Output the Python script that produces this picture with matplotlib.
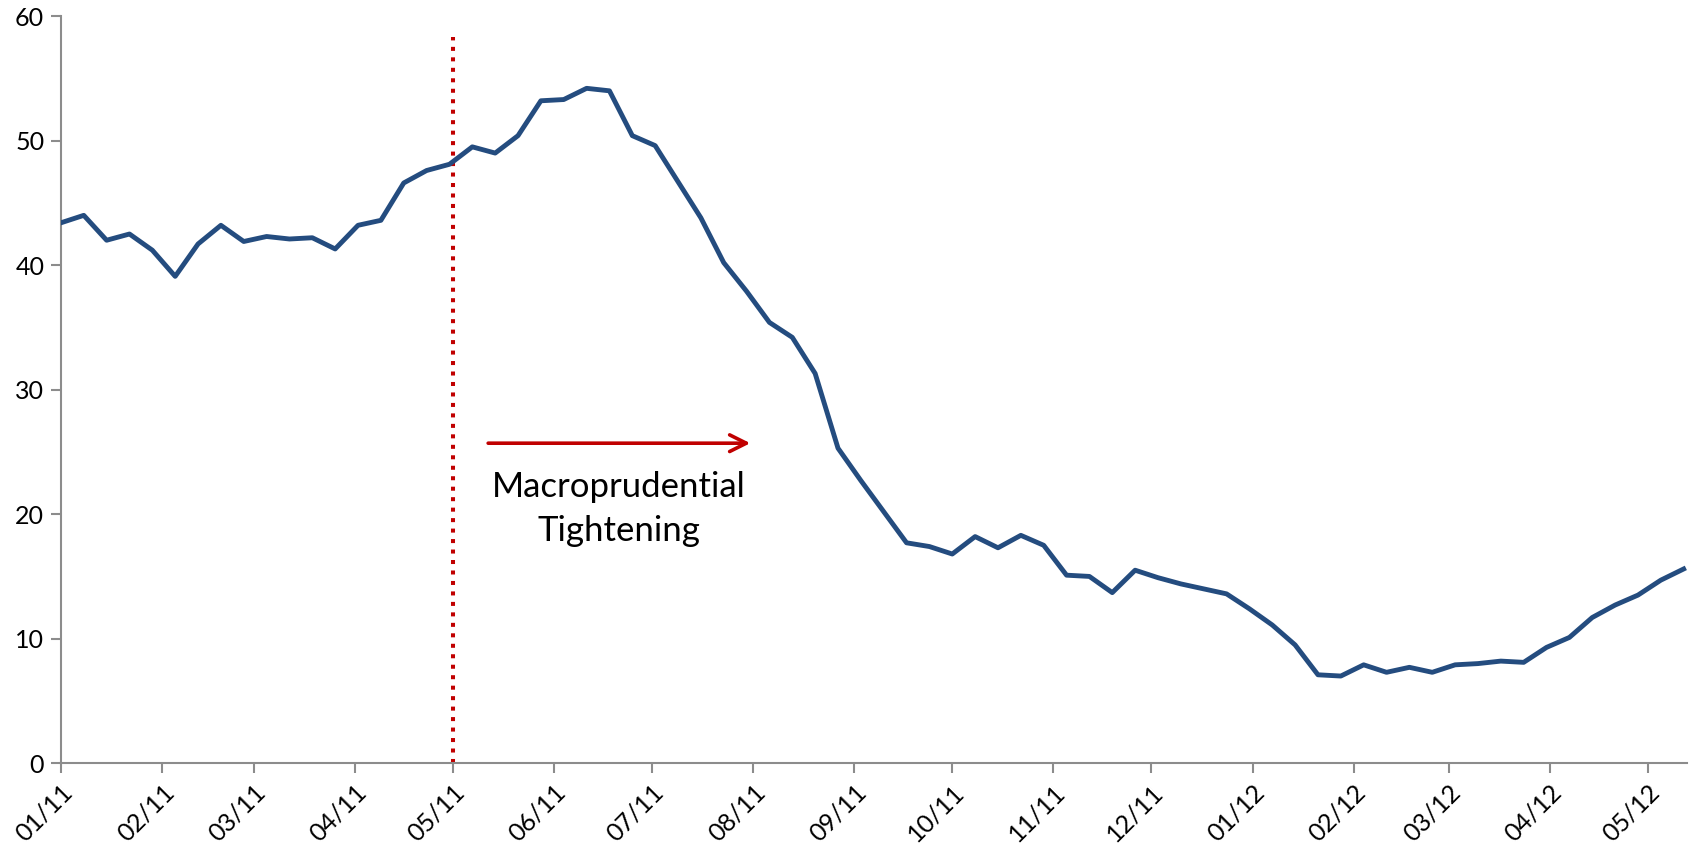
import numpy as np
import pandas as pd
import matplotlib
matplotlib.use("Agg")
import matplotlib.pyplot as plt
import matplotlib.dates as mdates

# weekly series
start_date = "2011-01-01"
values = [
    43.4, 44.0, 42.0, 42.5, 41.2, 39.1, 41.7, 43.2, 41.9, 42.3,
    42.1, 42.2, 41.3, 43.2, 43.6, 46.6, 47.6, 48.1, 49.5, 49.0,
    50.4, 53.2, 53.3, 54.2, 54.0, 50.4, 49.6, 46.7, 43.8, 40.2,
    37.9, 35.4, 34.2, 31.3, 25.3, 22.7, 20.2, 17.7, 17.4, 16.8,
    18.2, 17.3, 18.3, 17.5, 15.1, 15.0, 13.7, 15.5, 14.9, 14.4,
    14.0, 13.6, 12.4, 11.1, 9.5, 7.1, 7.0, 7.9, 7.3, 7.7,
    7.3, 7.9, 8.0, 8.2, 8.1, 9.3, 10.1, 11.7, 12.7, 13.5,
    14.7, 15.6,
]
dates = pd.date_range(start_date, periods=len(values), freq="7D")

event_date = pd.Timestamp("2011-05-01")
event_top = 58.3
arrow_start = pd.Timestamp("2011-05-11")
arrow_end = pd.Timestamp("2011-08-01")
arrow_y = 25.7
label_pos = (pd.Timestamp("2011-06-21"), 20.4)
label_text = "Macroprudential\nTightening"

line_color = "#244C7F"
red = "#C00000"
axis_gray = "#8C8C8C"

plt.rcParams['font.family'] = ['Lato', 'DejaVu Sans']

fig = plt.figure(figsize=(16.92, 8.48), dpi=100)
ax = fig.add_axes([0.036, 0.1, 0.961, 0.881])

ax.plot(dates, values, color=line_color, lw=3.5, solid_joinstyle="round", zorder=3)

# start of the tightening, square-dotted marker line
ax.plot([event_date, event_date], [0, event_top], color=red, lw=2.9,
        linestyle=(0, (1.0, 1.6)), zorder=2)

ax.annotate("", xy=(arrow_end, arrow_y), xytext=(arrow_start, arrow_y),
            arrowprops=dict(arrowstyle="->", color=red, lw=2.6,
                            mutation_scale=30))
ax.text(label_pos[0], label_pos[1], label_text, ha="center", va="center",
        fontsize=25, linespacing=1.45, color="black")

ax.set_ylim(0, 60)
ax.set_yticks(np.arange(0, 61, 10))
ax.set_xlim(pd.Timestamp("2011-01-01"), dates[-1] + pd.Timedelta(days=1))

ax.xaxis.set_major_locator(mdates.MonthLocator())
ax.xaxis.set_major_formatter(mdates.DateFormatter("%m/%y"))

for s in ["top", "right"]:
    ax.spines[s].set_visible(False)
for s in ["left", "bottom"]:
    ax.spines[s].set_color(axis_gray)
    ax.spines[s].set_linewidth(1.5)

ax.tick_params(axis="both", colors=axis_gray, width=1.5, length=7, labelcolor="black",
               labelsize=18)
ax.tick_params(axis="x", pad=5)
ax.tick_params(axis="y", pad=5)
for lbl in ax.get_xticklabels():
    lbl.set_rotation(45)
    lbl.set_ha("right")
    lbl.set_rotation_mode("anchor")

fig.savefig("out.png", dpi=100, facecolor="white")
